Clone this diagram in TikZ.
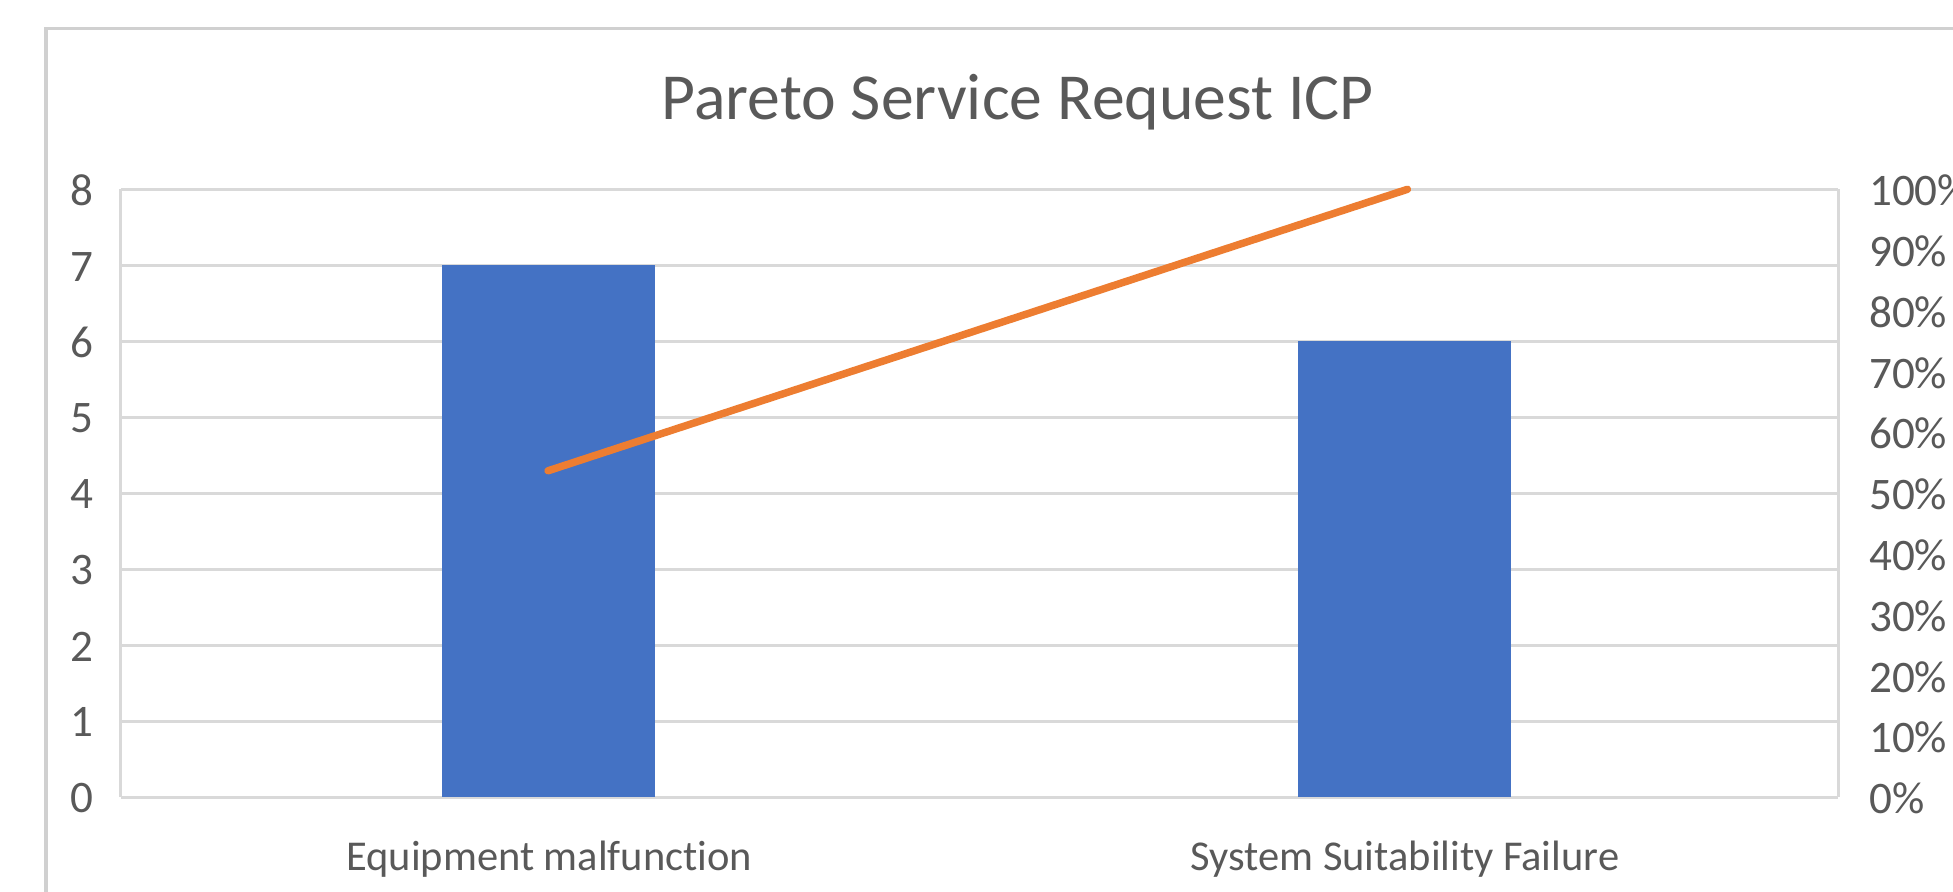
\documentclass[tikz,border=0pt]{standalone}
\usepackage{fontspec}
\setmainfont[Ligatures=NoCommon]{Carlito}
\definecolor{barblue}{HTML}{4472C4}
\definecolor{lineorange}{HTML}{ED7D31}
\definecolor{gridgray}{HTML}{D9D9D9}
\definecolor{framegray}{HTML}{D0D0D0}
\definecolor{textgray}{HTML}{595959}
\tikzset{
  gridline/.style={draw=gridgray, line width=0.7pt},
  framebox/.style={draw=framegray, line width=0.8pt},
  bar/.style={fill=barblue, draw=none},
  paretoline/.style={draw=lineorange, line width=1.7pt, line cap=round},
  ticklabel/.style={text=textgray, font=\fontsize{10.3}{12}\selectfont, inner sep=0pt},
  catlabel/.style={text=textgray, font=\fontsize{9.7}{12}\selectfont, inner sep=0pt},
  titlelabel/.style={text=textgray, font=\fontsize{15}{18}\selectfont, inner sep=0pt}
}
\begin{document}
\begin{tikzpicture}[x=0.01cm,y=-0.01cm]
\useasboundingbox (0,0) rectangle (1568,716);
\clip (0,0) rectangle (1568,716);
\fill[white] (0,0) rectangle (1568,716);
% chart frame
\draw[framebox] (37,800) -- (37,23) -- (1650,23);
% gridlines
\foreach \i in {0,...,8} {
  \draw[gridline] (97,{640-61*\i}) -- (1476,{640-61*\i});
}
\draw[gridline] (97,152) -- (97,640);
\draw[gridline] (1476,152) -- (1476,640);
% bars
\fill[bar] (355,213) rectangle (526,640);
\fill[bar] (1042,274) rectangle (1213,640);
% cumulative line
\coordinate (p1) at (440,378);
\coordinate (p2) at (1130,152);
\draw[paretoline] (p1) -- (p2);
% title
\node[titlelabel] (title) at (817,82) {Pareto Service Request ICP};
% left axis labels
\foreach \i in {0,...,8} {
  \node[ticklabel, anchor=east] (yl\i) at (76,{641-61*\i}) {\i};
}
% right axis labels
\foreach \j in {0,...,10} {
  \pgfmathtruncatemacro{\pc}{10*\j}
  \node[ticklabel, anchor=west] (yr\j) at (1500,{641-48.8*\j}) {\pc\%};
}
% category labels
\node[catlabel] (c1) at (441,690) {Equipment malfunction};
\node[catlabel] (c2) at (1128,690) {System Suitability Failure};
\end{tikzpicture}
\end{document}
